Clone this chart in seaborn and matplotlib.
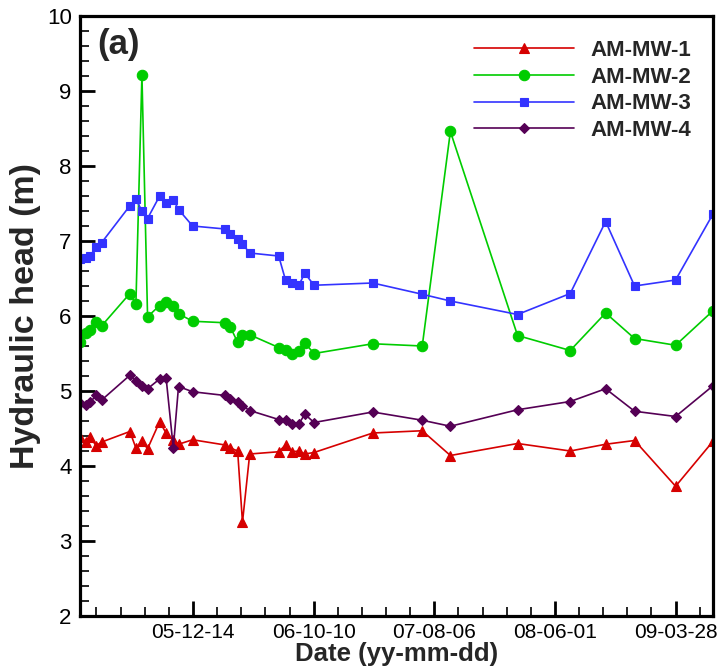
import numpy as np
import pandas as pd
import matplotlib
matplotlib.use("Agg")
import matplotlib.pyplot as plt
import matplotlib.dates as mdates
from matplotlib.ticker import MultipleLocator, FixedLocator
import seaborn as sns

# ---- data -------------------------------------------------------------
dates = ["2005-03-08", "2005-03-22", "2005-04-02", "2005-04-17", "2005-05-01",
         "2005-07-10", "2005-07-25", "2005-08-09", "2005-08-23", "2005-09-22",
         "2005-10-08", "2005-10-26", "2005-11-08", "2005-12-13", "2006-03-04",
         "2006-03-17", "2006-04-04", "2006-04-16", "2006-05-04", "2006-07-15",
         "2006-08-01", "2006-08-18", "2006-09-03", "2006-09-18", "2006-10-11",
         "2007-03-06", "2007-07-07", "2007-09-15", "2008-02-29", "2008-07-09",
         "2008-10-05", "2008-12-16", "2009-03-28", "2009-06-29"]

mw1 = [4.39, 4.32, 4.39, 4.27, 4.32, 4.46, 4.24, 4.33, 4.23, 4.59,
       4.44, 4.35, 4.29, 4.35, 4.28, 4.24, 4.20, 3.25, 4.16, 4.19,
       4.28, 4.19, 4.20, 4.16, 4.18, 4.44, 4.47, 4.14, 4.30, 4.20,
       4.29, 4.34, 3.73, 4.33]
mw2 = [5.65, 5.77, 5.82, 5.92, 5.87, 6.30, 6.16, 9.21, 5.99, 6.14,
       6.19, 6.14, 6.03, 5.93, 5.91, 5.85, 5.65, 5.75, 5.75, 5.58,
       5.55, 5.50, 5.53, 5.64, 5.50, 5.63, 5.60, 8.46, 5.74, 5.54,
       6.04, 5.70, 5.61, 6.07]
mw3 = [6.76, 6.78, 6.80, 6.92, 6.98, 7.47, 7.56, 7.40, 7.30, 7.60,
       7.51, 7.55, 7.42, 7.20, 7.16, 7.10, 7.03, 6.96, 6.84, 6.80,
       6.48, 6.44, 6.41, 6.57, 6.41, 6.44, 6.29, 6.20, 6.02, 6.30,
       7.26, 6.40, 6.48, 7.36]
mw4 = [4.84, 4.82, 4.85, 4.94, 4.88, 5.21, 5.13, 5.07, 5.03, 5.16,
       5.18, 4.24, 5.06, 4.99, 4.94, 4.90, 4.85, 4.80, 4.74, 4.62,
       4.62, 4.56, 4.56, 4.69, 4.58, 4.72, 4.61, 4.53, 4.75, 4.86,
       5.03, 4.73, 4.66, 5.07]

wells = ["AM-MW-1", "AM-MW-2", "AM-MW-3", "AM-MW-4"]
tick_dates = ["2005-12-14", "2006-10-10", "2007-08-06", "2008-06-01", "2009-03-28"]

# ---- style ------------------------------------------------------------
sns.set_theme(style="white")
plt.rcParams["font.family"] = ["Liberation Sans", "DejaVu Sans"]

df = pd.DataFrame({"date": pd.to_datetime(dates),
                   "AM-MW-1": mw1, "AM-MW-2": mw2,
                   "AM-MW-3": mw3, "AM-MW-4": mw4})
long = df.melt(id_vars="date", var_name="well", value_name="head")

colors = {"AM-MW-1": "#d60000", "AM-MW-2": "#00cc00",
          "AM-MW-3": "#3333ff", "AM-MW-4": "#550055"}
markers = {"AM-MW-1": "^", "AM-MW-2": "o", "AM-MW-3": "s", "AM-MW-4": "D"}
msizes = {"AM-MW-1": 6.5, "AM-MW-2": 7.5, "AM-MW-3": 5.5, "AM-MW-4": 5.5}

fig = plt.figure(figsize=(7.17, 6.68), dpi=100)
ax = fig.add_axes([80 / 717, 1 - 616 / 668, (713 - 80) / 717, (616 - 16) / 668])

for w in wells:
    sub = long[long["well"] == w]
    sns.lineplot(data=sub, x="date", y="head", ax=ax, color=colors[w],
                 marker=markers[w], markersize=msizes[w],
                 markeredgecolor=colors[w], markeredgewidth=0.8,
                 linewidth=1.2, label=w, sort=False, estimator=None)

# ---- axes -------------------------------------------------------------
ax.set_ylim(2, 10)
ax.set_xlim(pd.to_datetime(dates[0]), pd.to_datetime(dates[-1]))
ax.yaxis.set_major_locator(MultipleLocator(1))
ax.yaxis.set_minor_locator(MultipleLocator(0.2))

tick_dt = pd.to_datetime(tick_dates)
ax.xaxis.set_major_locator(FixedLocator(mdates.date2num(tick_dt)))
base = mdates.date2num(tick_dt[0])
ax.xaxis.set_minor_locator(FixedLocator(base + np.arange(-240, 1261, 60)))
ax.xaxis.set_major_formatter(mdates.DateFormatter("%y-%m-%d"))

for s in ax.spines.values():
    s.set_linewidth(2.3)
    s.set_color("black")

ax.tick_params(axis="both", which="major", direction="in", length=11, width=2,
               color="black", labelsize=16, labelcolor="black",
               top=False, right=False, left=True, bottom=True, pad=6)
ax.tick_params(axis="x", which="major", labelsize=15, pad=5)
ax.tick_params(axis="both", which="minor", direction="in", length=6.5, width=1.2,
               color="black", top=False, right=False, left=True, bottom=True)

ax.set_xlabel("Date (yy-mm-dd)", fontsize=18.5, fontweight="bold", labelpad=0)
ax.set_ylabel("Hydraulic head (m)", fontsize=24.5, fontweight="bold", labelpad=4)

ax.text(0.028, 0.98, "(a)", transform=ax.transAxes, fontsize=25,
        fontweight="bold", va="top", ha="left")

handles = ax.get_lines()[:4]
leg = ax.legend(handles, wells, loc="upper right", bbox_to_anchor=(0.997, 0.993),
                frameon=False, handlelength=4.5, numpoints=1,
                prop={"weight": "bold", "size": 16}, labelspacing=0.25,
                handletextpad=0.75)

fig.savefig("out.png", dpi=100)
